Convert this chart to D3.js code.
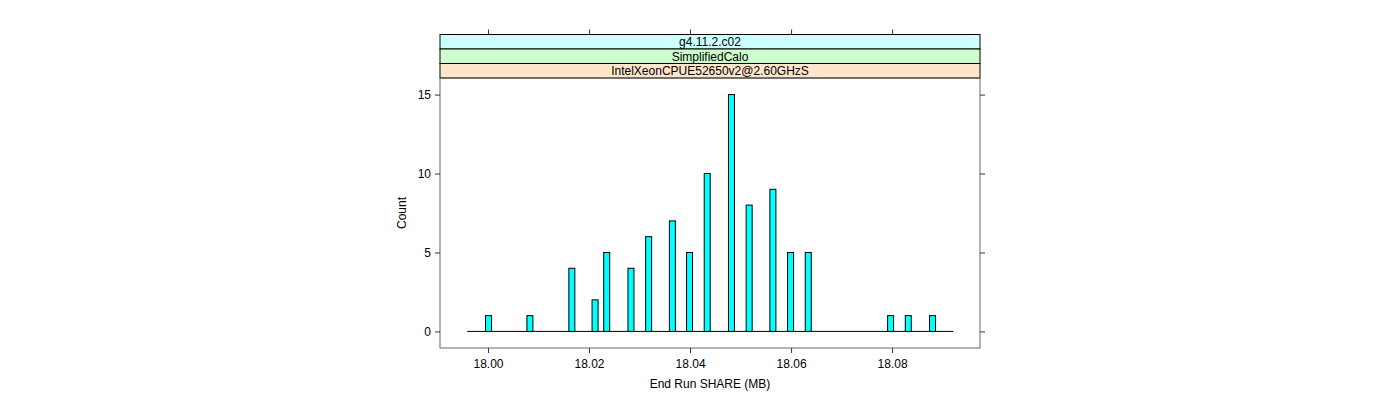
<!DOCTYPE html>
<html><head><meta charset="utf-8">
<script src="https://cdn.jsdelivr.net/npm/d3@7"></script>
<style>body{margin:0;background:#fff;} text{font-family:"Liberation Sans",Arial,sans-serif;}</style>
</head><body>
<svg id="c" width="1400" height="400"></svg>
<script>
// Histogram bar centers (MB) and counts
const shareMB = [18.0001,18.0083,18.0166,18.0212,18.0235,18.0283,18.0318,18.0365,18.0399,18.0434,18.0482,18.0517,18.0564,18.0599,18.0634,18.0797,18.0832,18.0880];
const counts  = [1,1,4,2,5,4,6,7,5,10,15,8,9,5,5,1,1,1];
const binWidth = 0.00119;
const breakRange = [17.9959, 18.0921];
const xTicks = [18.00, 18.02, 18.04, 18.06, 18.08];
const yTicks = [0, 5, 10, 15];
const strips = ["g4.11.2.c02", "SimplifiedCalo", "IntelXeonCPUE52650v2@2.60GHzS"];
const stripColors = ["#ccffff", "#ccffcc", "#ffe5cc"];

const svg = d3.select("#c");
const L = 440, R = 980, T = 78, B = 348;
const x = d3.scaleLinear().domain([17.9905, 18.0974]).range([L, R]);
const y = d3.scaleLinear().domain([-1.05, 16.05]).range([B, T]);

// strips (top to bottom)
const sTop = 34.5, sH = (T - sTop) / 3;
strips.forEach((s, i) => {
  const yy = sTop + i * sH;
  svg.append("rect").attr("x", L).attr("y", yy).attr("width", R - L).attr("height", sH)
    .attr("fill", stripColors[i]).attr("stroke", "#000").attr("stroke-width", 1);
  svg.append("text").attr("x", (L + R) / 2).attr("y", yy + sH / 2 + 4.5)
    .attr("text-anchor", "middle").attr("font-size", 12).text(s);
});

// panel border
svg.append("rect").attr("x", L).attr("y", T).attr("width", R - L).attr("height", B - T)
  .attr("fill", "none").attr("stroke", "#666").attr("stroke-width", 1);

// baseline
svg.append("line").attr("x1", x(breakRange[0])).attr("x2", x(breakRange[1]))
  .attr("y1", y(0)).attr("y2", y(0)).attr("stroke", "#000").attr("stroke-width", 1);

// bars
svg.selectAll("rect.bar").data(shareMB).enter().append("rect").attr("class", "bar")
  .attr("x", (d) => x(d - binWidth / 2))
  .attr("width", (d) => x(d + binWidth / 2) - x(d - binWidth / 2))
  .attr("y", (d, i) => y(counts[i]))
  .attr("height", (d, i) => y(0) - y(counts[i]))
  .attr("fill", "#00ffff").attr("stroke", "#000").attr("stroke-width", 1);

// axes
const xb = svg.append("g").attr("transform", `translate(0,${B})`)
  .call(d3.axisBottom(x).tickValues(xTicks).tickFormat(d3.format(".2f")).tickSize(5).tickPadding(6));
const xt = svg.append("g").attr("transform", `translate(0,${sTop})`)
  .call(d3.axisTop(x).tickValues(xTicks).tickFormat("").tickSize(5));
const yl = svg.append("g").attr("transform", `translate(${L},0)`)
  .call(d3.axisLeft(y).tickValues(yTicks).tickSize(5).tickPadding(4));
const yr = svg.append("g").attr("transform", `translate(${R},0)`)
  .call(d3.axisRight(y).tickValues(yTicks).tickFormat("").tickSize(5));
[xb, xt, yl, yr].forEach(g => {
  g.select(".domain").remove();
  g.selectAll("line").attr("stroke", "#333");
  g.selectAll("text").attr("font-size", 12).attr("fill", "#000")
    .attr("font-family", "'Liberation Sans', Arial, sans-serif");
});

// axis titles
svg.append("text").attr("x", (L + R) / 2).attr("y", 388).attr("text-anchor", "middle")
  .attr("font-size", 12).text("End Run SHARE (MB)");
svg.append("text").attr("transform", `translate(406,${(T + B) / 2}) rotate(-90)`)
  .attr("text-anchor", "middle").attr("font-size", 12).text("Count");
</script>
</body></html>
